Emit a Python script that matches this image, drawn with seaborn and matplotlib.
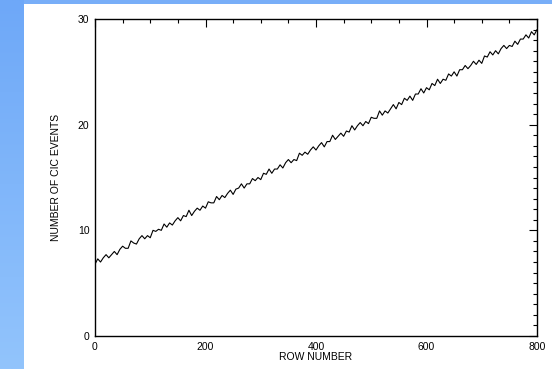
import numpy as np
import pandas as pd
import matplotlib
matplotlib.use("Agg")
import matplotlib.pyplot as plt
from matplotlib.ticker import MultipleLocator
import seaborn as sns

# row numbers sampled every 5 rows
rows = list(range(0, 805, 5))

# CIC event counts
cic_events = [
    6.8, 7.3, 7.0, 7.4, 7.7, 7.4, 7.7, 8.0, 7.7, 8.2,
    8.5, 8.3, 8.3, 9.0, 8.8, 8.7, 9.2, 9.5, 9.2, 9.5,
    9.3, 10.0, 9.9, 10.1, 10.0, 10.6, 10.3, 10.7, 10.5, 10.9,
    11.2, 10.9, 11.4, 11.3, 11.9, 11.4, 11.8, 12.1, 11.9, 12.3,
    12.1, 12.7, 12.6, 12.6, 13.2, 12.9, 13.3, 13.1, 13.5, 13.8,
    13.4, 13.9, 14.0, 14.4, 14.0, 14.4, 14.4, 14.9, 14.7, 15.0,
    14.8, 15.4, 15.3, 15.8, 15.4, 15.8, 15.8, 16.2, 15.9, 16.4,
    16.7, 16.4, 16.7, 16.6, 17.3, 17.1, 17.4, 17.2, 17.6, 17.9,
    17.6, 18.0, 18.3, 17.9, 18.4, 18.4, 19.0, 18.6, 18.9, 19.2,
    18.9, 19.4, 19.3, 19.9, 19.5, 19.9, 20.2, 19.9, 20.3, 20.1,
    20.7, 20.6, 20.6, 21.3, 20.9, 21.3, 21.1, 21.5, 21.9, 21.5,
    22.1, 21.9, 22.5, 22.3, 22.7, 22.3, 22.9, 22.9, 23.4, 23.0,
    23.5, 23.3, 23.9, 23.7, 24.3, 23.9, 24.3, 24.2, 24.8, 24.6,
    25.0, 24.6, 25.2, 25.2, 25.6, 25.3, 25.6, 26.0, 25.7, 26.1,
    25.8, 26.5, 26.4, 26.9, 26.6, 27.0, 26.7, 27.2, 27.5, 27.2,
    27.5, 27.4, 27.9, 27.6, 28.1, 28.1, 28.5, 28.2, 28.8, 28.5,
    29.0,
]

x_ticks = [0, 200, 400, 600, 800]
y_ticks = [0, 10, 20, 30]

df = pd.DataFrame({"row": rows, "events": cic_events})

sns.set_style("white")
plt.rcParams["font.family"] = ["Liberation Sans", "DejaVu Sans"]
plt.rcParams["text.color"] = "black"
plt.rcParams["axes.labelcolor"] = "black"
plt.rcParams["xtick.color"] = "black"
plt.rcParams["ytick.color"] = "black"

fig = plt.figure(figsize=(5.52, 3.69), dpi=100)
fig.patch.set_facecolor("white")

# blue frame: strip on top, gradient strip on the left
top = fig.add_axes([0, 1 - 4 / 369, 1, 4 / 369])
top.set_axis_off()
top.add_patch(plt.Rectangle((0, 0), 1, 1, color="#78aef8", transform=top.transAxes))

side = fig.add_axes([0, 0, 24 / 552, 1])
grad = np.linspace(0, 1, 256).reshape(-1, 1)
cmap = matplotlib.colors.LinearSegmentedColormap.from_list("bl", ["#6ea8f8", "#92c4fc"])
side.imshow(grad, aspect="auto", cmap=cmap, extent=[0, 1, 0, 1])
side.set_axis_off()

ax = fig.add_axes([95 / 552, 1 - 336 / 369, 442 / 552, 317 / 369])
sns.lineplot(data=df, x="row", y="events", ax=ax, color="black", linewidth=0.8)

ax.set_xlim(0, 800)
ax.set_ylim(0, 30)
ax.set_xticks(x_ticks)
ax.set_yticks(y_ticks)
ax.xaxis.set_minor_locator(MultipleLocator(50))
ax.yaxis.set_minor_locator(MultipleLocator(1))
ax.tick_params(which="both", direction="in", top=True, right=True, labelsize=7.5, color="black", pad=4)
ax.tick_params(which="major", length=6, width=0.8)
ax.tick_params(which="minor", length=3, width=0.8)
for s in ax.spines.values():
    s.set_color("black")
    s.set_linewidth(1)

ax.set_xlabel("ROW NUMBER", fontsize=7.5, labelpad=0)
ax.set_ylabel("NUMBER OF CIC EVENTS", fontsize=7.5, labelpad=12)

fig.savefig("out.png", dpi=100)
